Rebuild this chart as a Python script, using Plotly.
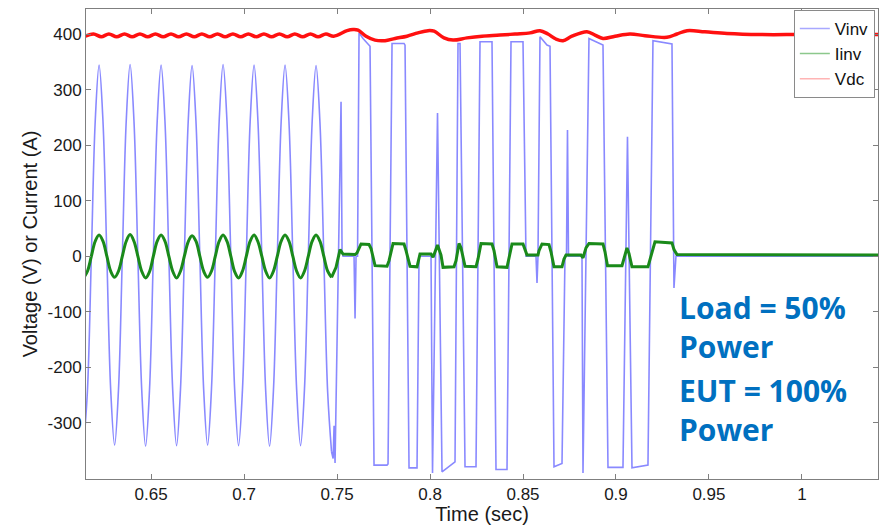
import plotly.graph_objects as go

# ---------------- data ----------------
# Vinv, sinusoidal part (60 Hz), sampled every 1/8 cycle
vinv_sine_t = [0.61371, 0.61579, 0.61788, 0.61996, 0.62204, 0.62413, 0.62621, 0.62829,
               0.63038, 0.63246, 0.63454, 0.63663, 0.63871, 0.64079, 0.64288, 0.64496,
               0.64704, 0.64913, 0.65121, 0.65329, 0.65538, 0.65746, 0.65954, 0.66163,
               0.66371, 0.66579, 0.66788, 0.66996, 0.67204, 0.67413, 0.67621, 0.67829,
               0.68038, 0.68246, 0.68454, 0.68663, 0.68871, 0.69079, 0.69288, 0.69496,
               0.69704, 0.69913, 0.70121, 0.70329, 0.70538, 0.70746, 0.70954, 0.71163,
               0.71371, 0.71579, 0.71788, 0.71996, 0.72204, 0.72413, 0.72621, 0.72829,
               0.73038, 0.73246, 0.73454, 0.73663, 0.73871, 0.74079, 0.74288, 0.74496,
               0.74704]
vinv_sine_v = [-341, -241, 0, 243, 344, 243, 0, -241,
               -340, -241, 0, 243, 345, 244, 0, -240,
               -342, -242, 0, 243, 344, 243, 0, -241,
               -341, -241, 0, 242, 343, 243, 0, -241,
               -340, -240, 0, 244, 345, 244, 0, -241,
               -341, -241, 0, 243, 344, 243, 0, -242,
               -342, -242, 0, 243, 344, 243, 0, -241,
               -341, -241, 0, 243, 343, 242, 0, -245,
               -352]

# Vinv, square-pulse part
vinv_step_t = [0.74704, 0.74790, 0.74840, 0.74860, 0.74892, 0.75215, 0.75269, 0.75323,
               0.75914, 0.75968, 0.76022, 0.76102, 0.76183, 0.76398, 0.76720, 0.76774,
               0.76989, 0.77688, 0.77742, 0.77957, 0.78602, 0.78656, 0.78871, 0.79301,
               0.79409, 0.80054, 0.80134, 0.80403, 0.80645, 0.81290, 0.81344, 0.81505,
               0.81613, 0.81882, 0.82473, 0.82688, 0.83333, 0.83548, 0.84140, 0.84355,
               0.85000, 0.85161, 0.85699, 0.85753, 0.85806, 0.85914, 0.86290, 0.86452,
               0.86667, 0.87097, 0.87258, 0.87339, 0.87392, 0.87446, 0.88172, 0.88226,
               0.88548, 0.89301, 0.89570, 0.90376, 0.90618, 0.90860, 0.91720, 0.91989,
               0.93011, 0.93118, 0.93226, 1.04500]
vinv_step_v = [-352, -364, -305, -360, -372, 278, 10, 0,
               0, -112, 0, 0, 402, 392, 380, 378,
               -376, -376, -374, 383, 383, 380, -381, -381,
               0, 0, -390, 258, -388, -372, -370, 383,
               383, -379, -379, 386, 386, -384, -384, 386,
               386, 0, 0, -48, 0, 395, 380, 378,
               -379, -373, 0, 0, 227, 0, 0, -390,
               392, 380, -380, -380, 215, -381, -376, 388,
               382, -57, 0, 0]

# Iinv, sinusoidal part (same sample times as Vinv)
iinv_sine_t = list(vinv_sine_t)
iinv_sine_v = [-39, -27, 0, 27, 38, 27, 0, -27,
               -38, -27, 0, 27, 39, 27, 0, -27,
               -39, -28, 0, 27, 38, 27, 0, -27,
               -39, -27, 0, 26, 37, 27, 0, -27,
               -38, -27, 0, 27, 38, 27, 0, -28,
               -39, -27, 0, 27, 38, 26, 0, -27,
               -39, -27, 0, 27, 38, 27, 0, -27,
               -39, -27, 0, 27, 38, 27, 0, -27,
               -38]

# Iinv, stepped part
iinv_step_t = [0.74704, 0.74946, 0.75161, 0.75323, 0.75968, 0.76075, 0.76290, 0.76720,
               0.76828, 0.77043, 0.77688, 0.77796, 0.78011, 0.78602, 0.78710, 0.78925,
               0.79301, 0.79462, 0.80054, 0.80161, 0.80403, 0.80591, 0.80699, 0.81290,
               0.81398, 0.81559, 0.81667, 0.81882, 0.82473, 0.82581, 0.82742, 0.83333,
               0.83441, 0.83602, 0.84140, 0.84247, 0.84409, 0.85000, 0.85108, 0.85215,
               0.85806, 0.85860, 0.86022, 0.86398, 0.86505, 0.86667, 0.87097, 0.87204,
               0.87312, 0.88118, 0.88226, 0.88387, 0.88548, 0.89301, 0.89409, 0.89543,
               0.90323, 0.90430, 0.90591, 0.90699, 0.90860, 0.91720, 0.91828, 0.92097,
               0.93011, 0.93118, 0.93280, 1.04500]
iinv_step_v = [-38, -20, 12, 4, 3, 6, 22, 21,
               14, -17, -18, -8, 23, 22, 10, -18,
               -19, 4, 4, -2, 20, 2, -20, -19,
               -8, 23, 15, -18, -19, -5, 23, 22,
               10, -19, -20, -5, 22, 22, 10, 2,
               2, 10, 22, 21, 8, -19, -19, -5,
               2, 2, -3, 15, 23, 22, 8, -17,
               -17, -5, 15, 5, -19, -19, -5, 26,
               24, 12, 3, 2]

# Vdc (DC bus voltage with 120 Hz ripple, then slow swings)
vdc_t = [0.6140, 0.6190, 0.6232, 0.6273, 0.6315, 0.6357, 0.6398, 0.6440, 0.6482, 0.6523,
         0.6565, 0.6607, 0.6648, 0.6690, 0.6732, 0.6773, 0.6815, 0.6857, 0.6898, 0.6940,
         0.6982, 0.7023, 0.7065, 0.7107, 0.7148, 0.7190, 0.7232, 0.7273, 0.7315, 0.7357,
         0.7398, 0.7440, 0.7482, 0.7554, 0.7586, 0.7613, 0.7656, 0.7704, 0.7758, 0.7812,
         0.7876, 0.7935, 0.7989, 0.8022, 0.8075, 0.8124, 0.8199, 0.8280, 0.8376, 0.8457,
         0.8538, 0.8591, 0.8634, 0.8677, 0.8715, 0.8763, 0.8844, 0.8887, 0.8930, 0.8995,
         0.9075, 0.9156, 0.9274, 0.9328, 0.9382, 0.9478, 0.9597, 0.9774, 0.9989, 1.0204,
         1.0450]
vdc_v = [395, 400, 395, 400, 395, 400, 395, 400, 395, 400,
         395, 400, 395, 400, 395, 400, 395, 400, 395, 400,
         395, 400, 395, 400, 395, 400, 395, 400, 395, 400,
         395, 400, 396, 406, 408, 407, 396, 389, 388, 392,
         396, 402, 406, 405, 393, 389, 393, 396, 398, 400,
         402, 406, 400, 391, 388, 396, 404, 398, 392, 396,
         400, 397, 394, 400, 406, 404, 401, 399, 399, 399,
         399]

series_names = ["Vinv", "Iinv", "Vdc"]
series_colors = ["rgba(40,40,255,0.55)", "#1a8a1a", "#ff1010"]
legend_colors = ["#a8a8ff", "#8cc88c", "#ffb4b4"]

x_tick_vals = [0.65, 0.7, 0.75, 0.8, 0.85, 0.9, 0.95, 1.0]
x_tick_text = ["0.65", "0.7", "0.75", "0.8", "0.85", "0.9", "0.95", "1"]
y_tick_vals = [-300, -200, -100, 0, 100, 200, 300, 400]
y_tick_text = ["-300", "-200", "-100", "0", "100", "200", "300", "400"]

note_groups = ["Load = 50%<br>Power", "EUT = 100%<br>Power"]
note_y = [0.3234, 0.1468]   # paper positions of the two text blocks

# ---------------- figure ----------------
fig = go.Figure()

fig.add_trace(go.Scatter(x=vinv_sine_t, y=vinv_sine_v, mode="lines", showlegend=False,
                         line=dict(color=series_colors[0], width=1.6, shape="spline", smoothing=1.0)))
fig.add_trace(go.Scatter(x=vinv_step_t, y=vinv_step_v, mode="lines", showlegend=False,
                         line=dict(color=series_colors[0], width=1.6)))
fig.add_trace(go.Scatter(x=iinv_sine_t, y=iinv_sine_v, mode="lines", showlegend=False,
                         line=dict(color=series_colors[1], width=3, shape="spline", smoothing=1.0)))
fig.add_trace(go.Scatter(x=iinv_step_t, y=iinv_step_v, mode="lines", showlegend=False,
                         line=dict(color=series_colors[1], width=3)))
fig.add_trace(go.Scatter(x=vdc_t, y=vdc_v, mode="lines", showlegend=False,
                         line=dict(color=series_colors[2], width=3.5, shape="spline", smoothing=1.0)))

for name, col in zip(series_names, legend_colors):
    fig.add_trace(go.Scatter(x=[None], y=[None], mode="lines", name=name,
                             line=dict(color=col, width=1.5)))

axis_font = dict(family="Liberation Sans, Arial, sans-serif", size=17, color="#1a1a1a")

fig.update_layout(
    width=895, height=525,
    margin=dict(l=86, r=17, t=9, b=46, autoexpand=False),
    paper_bgcolor="white", plot_bgcolor="white",
    font=axis_font,
    legend=dict(x=0.996, y=0.998, xanchor="right", yanchor="top",
                bgcolor="white", bordercolor="#8a8a8a", borderwidth=1,
                font=dict(family="Liberation Sans, Arial, sans-serif", size=17, color="#111"),
                itemwidth=30, tracegroupgap=0),
    xaxis=dict(range=[0.615, 1.0409], tickvals=x_tick_vals, ticktext=x_tick_text,
               ticks="inside", ticklen=5, tickcolor="#7f7f7f", showgrid=False, zeroline=False,
               showline=True, linecolor="#7f7f7f", linewidth=1, mirror="ticks",
               automargin=False,
               title=dict(text="Time (sec)", standoff=2), tickfont=axis_font),
    yaxis=dict(range=[-401, 445], tickvals=y_tick_vals, ticktext=y_tick_text,
               ticks="inside", ticklen=5, tickcolor="#7f7f7f", showgrid=False, zeroline=False,
               showline=True, linecolor="#7f7f7f", linewidth=1, mirror="ticks",
               automargin=False,
               title=dict(text="Voltage (V) or Current (A)", standoff=4), tickfont=axis_font),
)

note_font = dict(family="Open Sans, sans-serif", size=30, color="#0070C0", weight="bold")
for txt, yy in zip(note_groups, note_y):
    fig.add_annotation(text="<b>" + txt + "</b>", xref="paper", yref="paper", x=0.746, y=yy,
                       xanchor="left", yanchor="middle", align="left", showarrow=False,
                       font=note_font)

fig.write_html("out.html")
